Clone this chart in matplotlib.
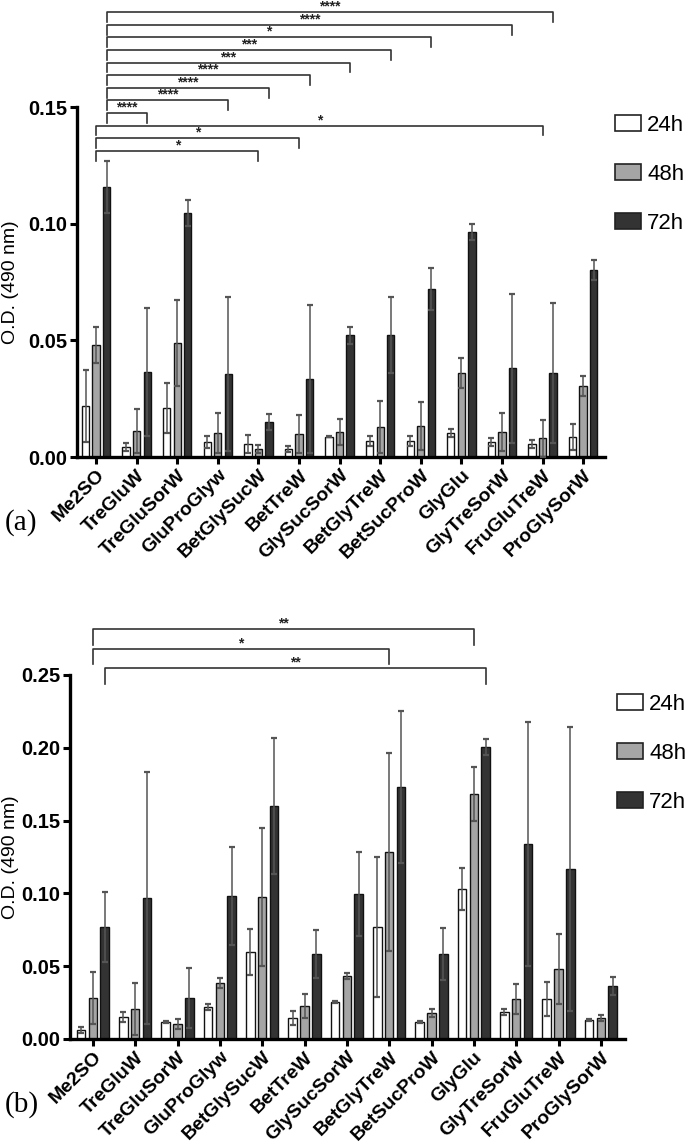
import matplotlib
matplotlib.use("Agg")
import matplotlib.pyplot as plt
from matplotlib.patches import Patch
import numpy as np

plt.rcParams['font.family'] = ['Liberation Sans', 'DejaVu Sans']

categories = ["Me2SO", "TreGluW", "TreGluSorW", "GluProGlyw", "BetGlySucW", "BetTreW",
              "GlySucSorW", "BetGlyTreW", "BetSucProW", "GlyGlu", "GlyTreSorW",
              "FruGluTreW", "ProGlySorW"]
series = ["24h", "48h", "72h"]

# Panel (a)
a_24 = [0.0218, 0.0043, 0.0210, 0.0064, 0.0056, 0.0034, 0.0087, 0.0068, 0.0068, 0.0103, 0.0064, 0.0055, 0.0086]
a_24_sd = [0.0154, 0.0017, 0.0106, 0.0026, 0.0038, 0.0013, 0.0003, 0.0022, 0.0022, 0.0017, 0.0016, 0.0018, 0.0055]
a_48 = [0.0479, 0.0111, 0.0487, 0.0103, 0.0034, 0.0098, 0.0107, 0.0128, 0.0132, 0.0359, 0.0107, 0.0080, 0.0303]
a_48_sd = [0.0077, 0.0094, 0.0184, 0.0085, 0.0016, 0.0082, 0.0055, 0.0112, 0.0103, 0.0064, 0.0081, 0.0078, 0.0043]
a_72 = [0.1158, 0.0363, 0.1047, 0.0355, 0.0150, 0.0333, 0.0521, 0.0521, 0.0722, 0.0966, 0.0380, 0.0359, 0.0803]
a_72_sd = [0.0112, 0.0274, 0.0056, 0.0329, 0.0034, 0.0317, 0.0035, 0.0163, 0.0090, 0.0034, 0.0320, 0.0301, 0.0043]

# Panel (b)
b_24 = [0.0062, 0.0151, 0.0117, 0.0220, 0.0598, 0.0144, 0.0254, 0.0770, 0.0117, 0.1032, 0.0186, 0.0275, 0.0131]
b_24_sd = [0.0021, 0.0035, 0.0005, 0.0020, 0.0158, 0.0046, 0.0005, 0.0480, 0.0010, 0.0144, 0.0020, 0.0117, 0.0007]
b_48 = [0.0282, 0.0206, 0.0103, 0.0385, 0.0975, 0.0227, 0.0433, 0.1286, 0.0179, 0.1685, 0.0275, 0.0481, 0.0144]
b_48_sd = [0.0178, 0.0179, 0.0035, 0.0035, 0.0475, 0.0083, 0.0021, 0.0681, 0.0027, 0.0185, 0.0105, 0.0239, 0.0021]
b_72 = [0.0770, 0.0970, 0.0282, 0.0980, 0.1600, 0.0584, 0.0997, 0.1730, 0.0584, 0.2008, 0.1340, 0.1169, 0.0365]
b_72_sd = [0.0240, 0.0866, 0.0208, 0.0337, 0.0470, 0.0166, 0.0289, 0.0520, 0.0179, 0.0055, 0.0840, 0.0977, 0.0061]

# Significance comparisons (from group, to group, series index, stars), bottom-up
a_comparisons = [
    ("Me2SO", "BetGlySucW", 1, "*"),
    ("Me2SO", "BetTreW", 1, "*"),
    ("Me2SO", "FruGluTreW", 1, "*"),
    ("Me2SO", "TreGluW", 2, "****"),
    ("Me2SO", "GluProGlyw", 2, "****"),
    ("Me2SO", "BetGlySucW", 2, "****"),
    ("Me2SO", "BetTreW", 2, "****"),
    ("Me2SO", "GlySucSorW", 2, "***"),
    ("Me2SO", "BetGlyTreW", 2, "***"),
    ("Me2SO", "BetSucProW", 2, "*"),
    ("Me2SO", "GlyTreSorW", 2, "****"),
    ("Me2SO", "FruGluTreW", 2, "****"),
]
b_comparisons = [
    ("Me2SO", "GlyGlu", 2, "**"),
    ("Me2SO", "BetGlyTreW", 1, "*"),
    ("Me2SO", "GlyGlu", 1, "**"),
]

colors = ["#ffffff", "#a5a5a5", "#333333"]

fig = plt.figure(figsize=(6.88, 11.46), dpi=100)
W, H = 688.0, 1146.0
ax1 = fig.add_axes([77 / W, 1 - 457 / H, 528 / W, 350 / H])
ax2 = fig.add_axes([70 / W, 1 - 1039 / H, 555 / W, 364 / H])


def draw_panel(ax, vals, sds, offset, width, ylim, yticks, xlim, comps, base, step, drop,
               legend_y, legend_x, label, label_y, ylabel_x):
    x = np.arange(len(categories))
    for i, (v, s) in enumerate(zip(vals, sds)):
        pos = x + (i - 1) * offset
        ax.bar(pos, v, width=width, color=colors[i], edgecolor="#111111", linewidth=1.0,
               zorder=2, label=series[i])
        ax.errorbar(pos, v, yerr=s, fmt="none", ecolor="#555555", elinewidth=1.1,
                    capsize=2, capthick=1.6, zorder=3)
    ax.set_xlim(*xlim)
    ax.set_ylim(*ylim)
    ax.set_yticks(yticks)
    ax.set_yticklabels([f"{t:.2f}" for t in yticks], fontsize=14.5, fontweight="bold")
    ax.set_xticks(x)
    ax.set_xticklabels(categories, rotation=45, ha="right", rotation_mode="anchor",
                       fontsize=14, fontweight="bold")
    for sp in ["top", "right"]:
        ax.spines[sp].set_visible(False)
    for sp in ["left", "bottom"]:
        ax.spines[sp].set_linewidth(2.4)
        ax.spines[sp].set_color("black")
    ax.tick_params(axis="both", direction="out", length=5, width=2.2, color="black", pad=2)
    ax.set_ylabel("O.D. (490 nm)", fontsize=14)
    bb = ax.get_position()
    ax.yaxis.set_label_coords((ylabel_x / W - bb.x0) / bb.width, 0.5)

    idx = {c: k for k, c in enumerate(categories)}
    for lvl, (c1, c2, si, stars) in enumerate(comps):
        y = base + lvl * step
        x1 = idx[c1] + (si - 1) * offset
        x2 = idx[c2] + (si - 1) * offset
        ax.plot([x1, x1, x2, x2], [y - drop, y, y, y - drop], color="#333333", lw=1.2,
                clip_on=False, zorder=4)
        ax.annotate(stars, xy=((x1 + x2) / 2, y), xytext=(0, -1), textcoords="offset points",
                    ha="center", va="bottom", fontsize=10, fontweight="bold",
                    color="#222222", annotation_clip=False)

    handles = [Patch(facecolor=colors[i], edgecolor="#222222", linewidth=1.2, label=series[i])
               for i in range(3)]
    ax.legend(handles=handles, loc="upper left", bbox_to_anchor=(legend_x / W, 1 - legend_y / H),
              bbox_transform=fig.transFigure, frameon=False, fontsize=16,
              handlelength=1.15, handleheight=0.75, handletextpad=0.3,
              labelspacing=1.25, borderpad=0, borderaxespad=0)
    fig.text(5 / W, 1 - label_y / H, label, fontsize=21, family=["Liberation Serif", "DejaVu Serif"],
             ha="left", va="center")


draw_panel(ax1, [a_24, a_48, a_72], [a_24_sd, a_48_sd, a_72_sd], offset=0.26, width=0.18,
           ylim=(0, 0.15), yticks=[0.0, 0.05, 0.10, 0.15], xlim=(-0.47, 12.54),
           comps=a_comparisons, base=0.1312, step=0.0054, drop=0.0042,
           legend_y=115, legend_x=615, label="(a)", label_y=523, ylabel_x=19)
draw_panel(ax2, [b_24, b_48, b_72], [b_24_sd, b_48_sd, b_72_sd], offset=0.28, width=0.2,
           ylim=(0, 0.25), yticks=[0.0, 0.05, 0.10, 0.15, 0.20, 0.25], xlim=(-0.54, 12.57),
           comps=b_comparisons, base=0.2545, step=0.0134, drop=0.0105,
           legend_y=694, legend_x=617, label="(b)", label_y=1105, ylabel_x=19)

fig.savefig("out.png", dpi=100)
